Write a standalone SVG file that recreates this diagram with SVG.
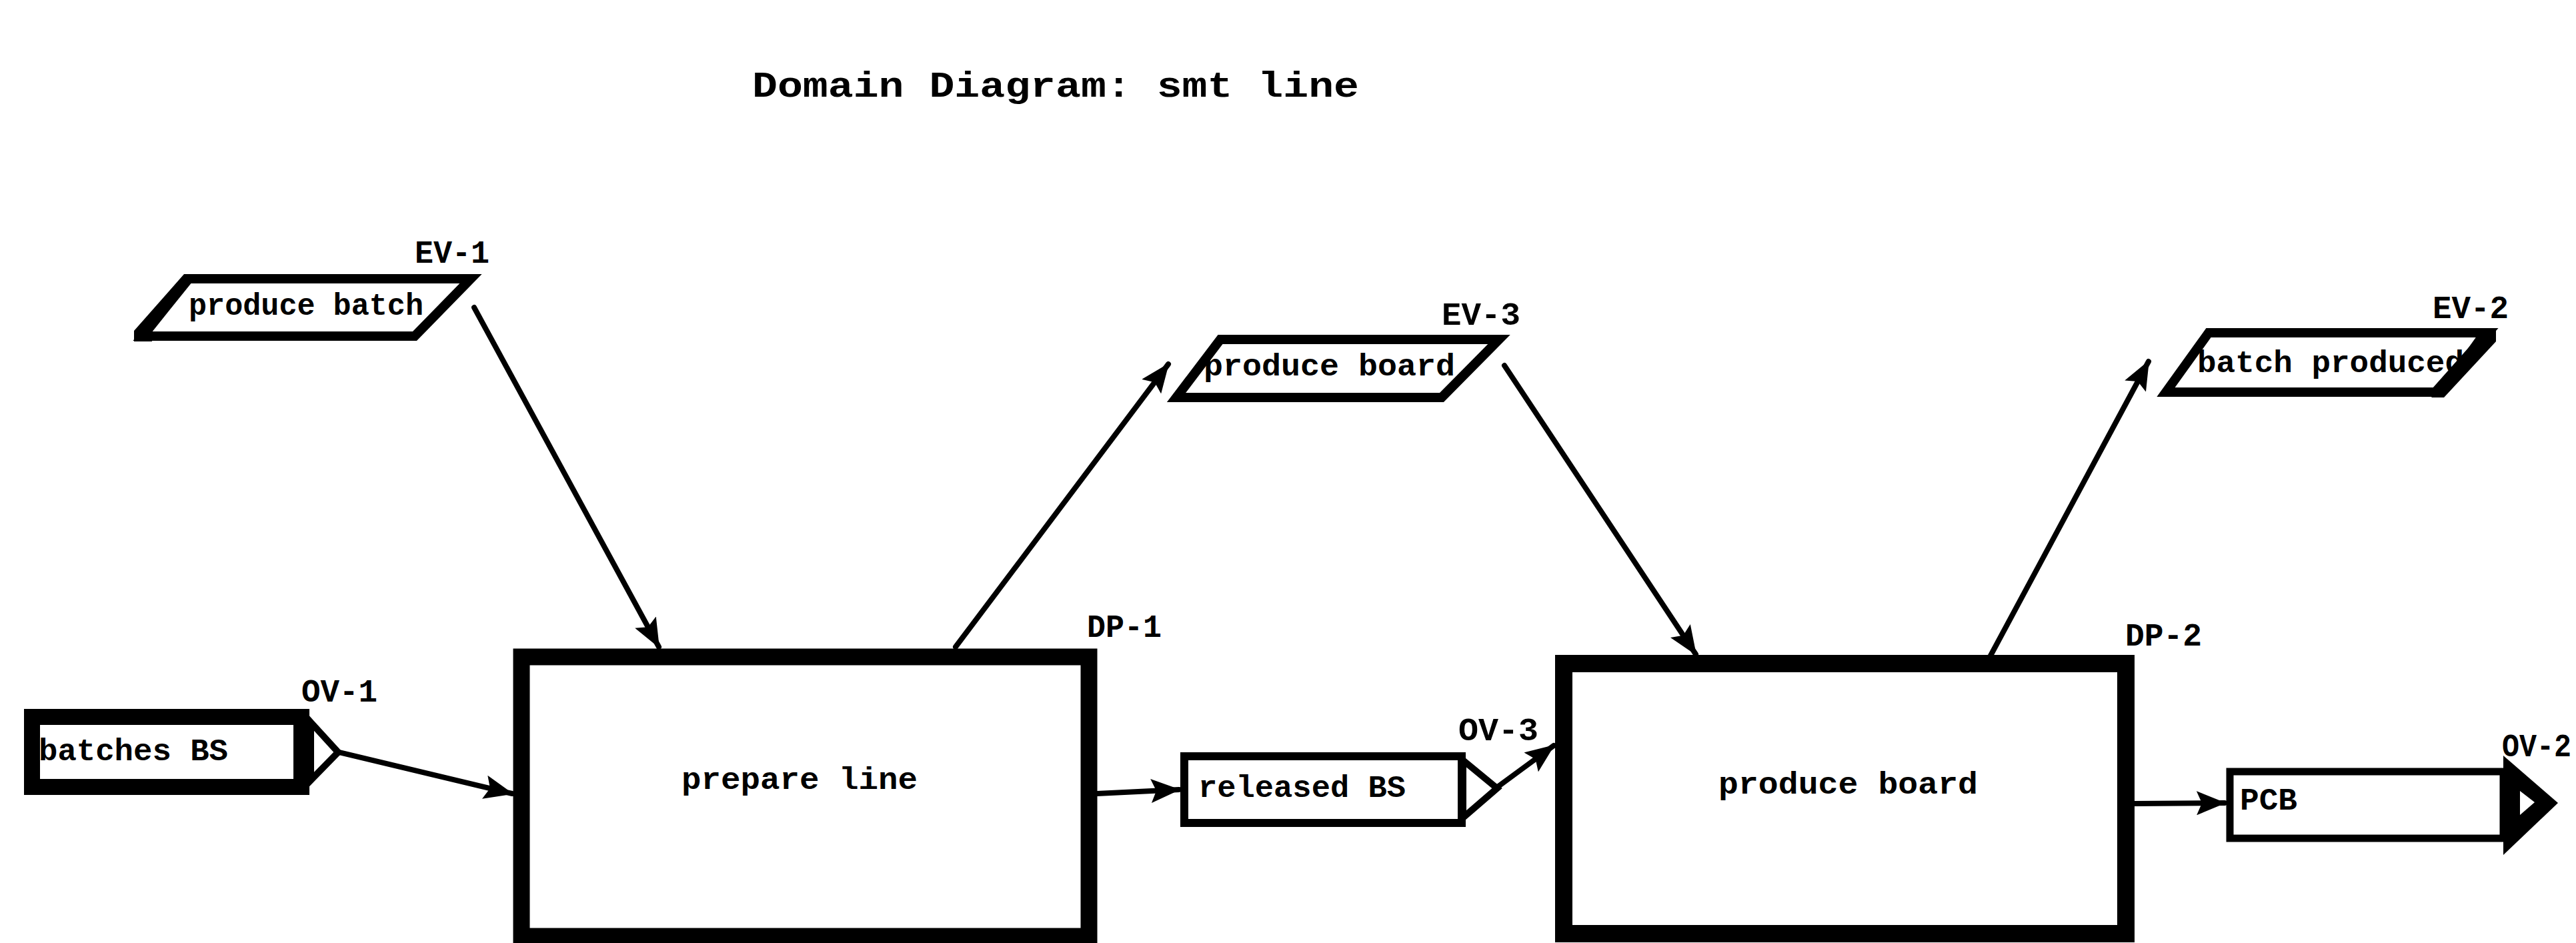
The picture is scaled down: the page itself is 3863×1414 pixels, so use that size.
<svg xmlns="http://www.w3.org/2000/svg" width="3863" height="1414" viewBox="0 0 3863 1414">
<defs>
<style>
text{font-family:"Liberation Mono","DejaVu Sans Mono",monospace;font-weight:bold;fill:#000}
.t{font-size:46px}
.lbl{font-size:48px}
.title{font-size:54px}
.box{fill:#fff;stroke:#000;stroke-linejoin:miter}
.conn{fill:none;stroke:#000;stroke-width:8;stroke-linecap:round}
</style>
<marker id="ah" markerUnits="userSpaceOnUse" markerWidth="44" markerHeight="36" refX="42" refY="18" orient="auto">
<path d="M0,0 L44,18 L0,36 L8,18 z" fill="#000"/>
</marker>
</defs>
<rect width="3863" height="1414" fill="#fff"/>
<text class="title" x="1128" y="145" textLength="910" lengthAdjust="spacingAndGlyphs">Domain Diagram: smt line</text>

<g id="connectors">
<line class="conn" x1="711" y1="461" x2="988" y2="970" marker-end="url(#ah)"/>
<line class="conn" x1="1433" y1="970" x2="1752" y2="546" marker-end="url(#ah)"/>
<line class="conn" x1="2256" y1="548" x2="2543" y2="981" marker-end="url(#ah)"/>
<line class="conn" x1="2984" y1="985" x2="3222" y2="542" marker-end="url(#ah)"/>
<line class="conn" x1="508" y1="1128" x2="768" y2="1190" marker-end="url(#ah)"/>
<line class="conn" x1="1645" y1="1190" x2="1768" y2="1184" marker-end="url(#ah)"/>
<line class="conn" x1="2243" y1="1182" x2="2330" y2="1118" marker-end="url(#ah)"/>
<line class="conn" x1="3201" y1="1205" x2="3336" y2="1204" marker-end="url(#ah)"/>
</g>

<g id="EV-1">
<polygon class="box" stroke-width="14" points="283,418 706,418 622,504 214,504"/>
<polygon points="276,411 292,411 226,497 228,512 201,512 201,496" fill="#000"/>
<text class="t" x="283" y="472" textLength="352" lengthAdjust="spacingAndGlyphs">produce batch</text>
<text class="lbl" x="622" y="394" textLength="112" lengthAdjust="spacingAndGlyphs">EV-1</text>
</g>

<g id="EV-3">
<polygon class="box" stroke-width="14" points="1830,509 2248,509 2162,596 1764,596"/>
<text class="t" x="1805" y="563" textLength="377" lengthAdjust="spacingAndGlyphs">produce board</text>
<text class="lbl" x="2162" y="487" textLength="118" lengthAdjust="spacingAndGlyphs">EV-3</text>
</g>

<g id="EV-2">
<polygon class="box" stroke-width="14" points="3312,499 3731,499 3652,588 3248,588"/>
<text class="t" x="3295" y="558" textLength="400" lengthAdjust="spacingAndGlyphs">batch produced</text>
<polygon points="3722,493 3743,493 3743,512 3665,596 3646,596 3660,580" fill="#000"/>
<text class="lbl" x="3648" y="477" textLength="114" lengthAdjust="spacingAndGlyphs">EV-2</text>
</g>

<g id="DP-1">
<rect class="box" stroke-width="25" x="782" y="985" width="851" height="419"/>
<text class="t" x="1022" y="1183" textLength="354" lengthAdjust="spacingAndGlyphs">prepare line</text>
<text class="lbl" x="1630" y="955" textLength="112" lengthAdjust="spacingAndGlyphs">DP-1</text>
</g>

<g id="DP-2">
<rect class="box" stroke-width="26" x="2345" y="995" width="843" height="405"/>
<text class="t" x="2577" y="1190" textLength="389" lengthAdjust="spacingAndGlyphs">produce board</text>
<text class="lbl" x="3187" y="968" textLength="115" lengthAdjust="spacingAndGlyphs">DP-2</text>
</g>

<g id="OV-1">
<rect class="box" stroke-width="24" x="48" y="1075" width="404" height="105"/>
<polygon class="box" stroke-width="10" points="466,1083 507,1128 466,1170"/>
<text class="t" x="58" y="1140" textLength="284" lengthAdjust="spacingAndGlyphs">batches BS</text>
<text class="lbl" x="452" y="1052" textLength="114" lengthAdjust="spacingAndGlyphs">OV-1</text>
</g>

<g id="OV-3">
<rect class="box" stroke-width="12" x="1776" y="1134" width="416" height="100"/>
<polygon class="box" stroke-width="10" points="2194,1140 2245,1182 2194,1226"/>
<text class="t" x="1797" y="1195" textLength="311" lengthAdjust="spacingAndGlyphs">released BS</text>
<text class="lbl" x="2187" y="1110" textLength="120" lengthAdjust="spacingAndGlyphs">OV-3</text>
</g>

<g id="OV-2">
<rect class="box" stroke-width="11" x="3344" y="1157" width="410" height="100"/>
<polygon points="3754,1133 3836,1204 3754,1282" fill="#000"/>
<polygon points="3779,1186 3801,1203 3779,1222" fill="#fff"/>
<text class="t" x="3359" y="1214" textLength="86" lengthAdjust="spacingAndGlyphs">PCB</text>
<text class="lbl" x="3752" y="1134" textLength="104" lengthAdjust="spacingAndGlyphs">OV-2</text>
</g>
</svg>
